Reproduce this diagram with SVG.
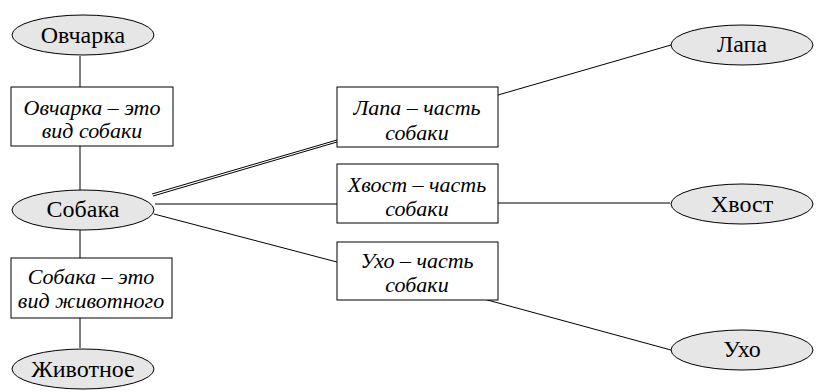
<svg xmlns="http://www.w3.org/2000/svg" width="816" height="392" viewBox="0 0 816 392">
<defs>
<ellipse id="ell" cx="0" cy="0" rx="71" ry="20" fill="#e6e6e6" stroke="#000" stroke-width="1"/>
</defs>
<rect width="816" height="392" fill="#fff"/>
<g id="connectors" stroke="#000" stroke-width="1" fill="none">
<line x1="80" y1="56" x2="80" y2="87"/>
<line x1="80" y1="146" x2="80" y2="190"/>
<line x1="80" y1="230" x2="80" y2="258"/>
<line x1="80" y1="318" x2="80" y2="348"/>
<line x1="152" y1="194" x2="337" y2="140"/>
<line x1="153" y1="196" x2="337" y2="142"/>
<line x1="155" y1="204" x2="337" y2="204"/>
<line x1="154" y1="214" x2="337" y2="262"/>
<line x1="498" y1="95" x2="671" y2="45"/>
<line x1="498" y1="203" x2="670" y2="203"/>
<line x1="480" y1="298" x2="671" y2="350"/>
</g>
<g font-family="Liberation Serif" text-anchor="middle" fill="#000">
<g id="n-ovcharka"><use href="#ell" x="83" y="35"/><text x="83" y="43" font-size="24">Овчарка</text></g>
<g id="b-ovcharka" font-style="italic" font-size="22"><rect x="11" y="87" width="162" height="59" fill="#fff" stroke="#000"/><text x="92" y="115">Овчарка – это</text><text x="92" y="138">вид собаки</text></g>
<g id="n-sobaka"><use href="#ell" x="83" y="210"/><text x="83" y="217" font-size="24">Собака</text></g>
<g id="b-sobaka" font-style="italic" font-size="22"><rect x="11" y="258" width="161" height="60" fill="#fff" stroke="#000"/><text x="91" y="284">Собака – это</text><text x="91" y="308">вид животного</text></g>
<g id="n-zhivotnoe"><use href="#ell" x="83" y="369"/><text x="83" y="377" font-size="24">Животное</text></g>
<g id="b-lapa" font-style="italic" font-size="22"><rect x="337" y="87" width="161" height="60" fill="#fff" stroke="#000"/><text x="417" y="115">Лапа – часть</text><text x="417" y="140">собаки</text></g>
<g id="b-hvost" font-style="italic" font-size="22"><rect x="337" y="164" width="161" height="59" fill="#fff" stroke="#000"/><text x="417" y="192">Хвост – часть</text><text x="417" y="216">собаки</text></g>
<g id="b-uho" font-style="italic" font-size="22"><rect x="337" y="242" width="161" height="58" fill="#fff" stroke="#000"/><text x="417" y="268">Ухо – часть</text><text x="417" y="292">собаки</text></g>
<g id="n-lapa"><use href="#ell" x="742" y="45"/><text x="742" y="52" font-size="24">Лапа</text></g>
<g id="n-hvost"><use href="#ell" x="742" y="204"/><text x="742" y="212" font-size="24">Хвост</text></g>
<g id="n-uho"><use href="#ell" x="742" y="350"/><text x="742" y="357" font-size="24">Ухо</text></g>
</g>
</svg>
